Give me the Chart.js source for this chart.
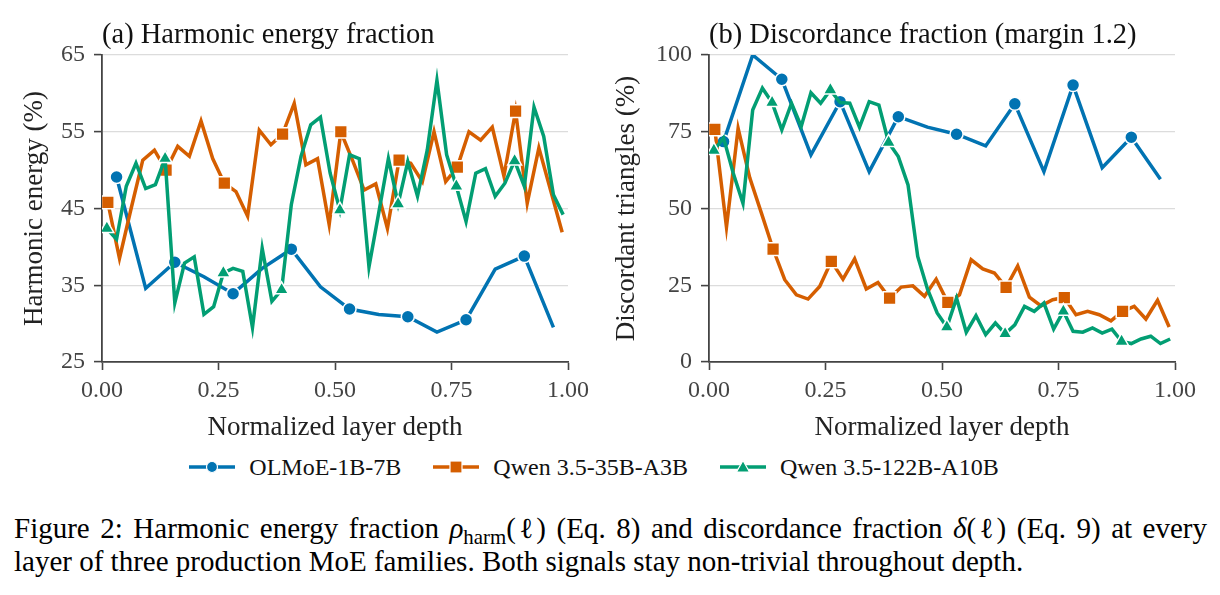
<!DOCTYPE html>
<html>
<head>
<meta charset="utf-8">
<script src="https://cdn.jsdelivr.net/npm/chart.js@4.4.1/dist/chart.umd.min.js"></script>
<style>
  body { margin: 0; width: 1220px; height: 595px; background: #fff; position: relative; overflow: hidden;
         font-family: 'Liberation Serif', 'DejaVu Serif', serif; }
  canvas { position: absolute; top: 0; }
  #harm { left: 0; }
  #disc { left: 600px; }
  #legend { position: absolute; top: 452px; left: 0; width: 1188px; height: 30px; display: flex;
            justify-content: center; align-items: center; font-size: 24px; color: #111; }
  .item { display: flex; align-items: center; margin: 0 16px; }
  .item svg { margin-right: 14px; }
  .caption { position: absolute; left: 14px; font-size: 29px; color: #000; }
  .caption.first { width: 1193px; text-align: justify; text-align-last: justify; text-justify: inter-word; }
  .caption.second { white-space: nowrap; }
  .caption i { font-style: italic; }
  .caption sub { font-size: 0.72em; vertical-align: -0.3em; line-height: 0; }
</style>
</head>
<body>
<canvas id="harm" width="600" height="445"></canvas>
<canvas id="disc" width="620" height="445"></canvas>
<div id="legend"></div>
<div class="caption first" style="top:512px">Figure 2: Harmonic energy fraction <i>ρ</i><sub>harm</sub>(ℓ) (Eq. 8) and discordance fraction <i>δ</i>(ℓ) (Eq. 9) at every</div>
<div class="caption second" style="top:545px">layer of three production MoE families. Both signals stay non-trivial throughout depth.</div>
<script>
const modelNames = ['OLMoE-1B-7B', 'Qwen 3.5-35B-A3B', 'Qwen 3.5-122B-A10B'];
const colors = ['#0173B2', '#D55E00', '#029E73'];
const markers = ['circle', 'rect', 'triangle'];
const markerRadius = [6.5, 9, 8];
const markEvery = [2, 5, 6];

// harmonic energy fraction (%), one value per layer
const olmoeHarm = [49.1, 34.6, 38.0, 36.1, 33.9, 37.2, 39.7, 34.8, 31.9, 31.2, 30.9, 28.9, 30.5, 37.1, 38.8, 29.5];
const qwen35Harm = [45.8, 38.5, 45.0, 51.3, 52.6, 50.0, 53.1, 51.8, 56.4, 51.5,
                    48.3, 47.2, 44.0, 55.2, 53.3, 54.7, 58.7, 50.7, 51.5, 42.9,
                    55.0, 51.3, 47.4, 48.2, 42.4, 51.3, 50.9, 48.5, 55.0, 48.5,
                    50.4, 55.0, 53.9, 55.6, 49.2, 57.7, 45.7, 52.9, 47.4, 41.9];
const qwen122Harm = [42.4, 41.0, 47.9, 50.9, 47.6, 48.1, 51.5, 32.7, 37.9, 38.7, 31.2, 32.2,
                     36.6, 37.2, 36.8, 29.5, 39.8, 32.9, 34.4, 45.5, 51.8, 55.9, 56.9, 49.6,
                     44.8, 52.0, 51.5, 37.4, 44.4, 51.5, 45.6, 51.1, 46.6, 52.6, 61.7, 52.0,
                     47.9, 43.3, 49.6, 50.2, 46.6, 48.3, 51.2, 47.9, 58.2, 54.4, 46.8, 44.2];

// discordance fraction (%), margin 1.2
const olmoeDisc = [71.8, 100, 92.1, 67.5, 84.8, 62.0, 79.9, 76.5, 74.2, 70.4, 84.1, 62.0, 90.2, 63.3, 73.2, 59.5];
const qwen35Disc = [75.8, 43.9, 76.1, 60.0, 48.5, 36.8, 26.8, 21.9, 20.5, 24.6,
                    32.8, 27.0, 33.6, 23.8, 25.9, 20.8, 24.4, 24.8, 21.4, 27.0,
                    19.4, 21.9, 33.3, 30.3, 29.0, 24.3, 31.3, 21.1, 18.3, 20.3,
                    21.0, 15.4, 16.5, 15.4, 13.4, 16.5, 18.1, 14.0, 20.1, 11.4];
const qwen122Disc = [68.9, 73.0, 61.5, 51.7, 82.1, 89.2, 84.5, 75.6, 84.3, 76.7, 87.7, 84.3,
                     88.6, 84.5, 84.3, 76.5, 84.8, 83.7, 71.5, 66.9, 57.7, 34.4, 23.8, 16.0,
                     11.4, 20.8, 9.7, 15.1, 8.9, 12.7, 9.2, 12.1, 18.1, 16.5, 19.2, 10.7,
                     16.5, 10.0, 9.7, 11.1, 9.4, 10.7, 6.7, 6.0, 7.5, 8.4, 6.0, 7.5];

const xTicks = [0, 0.25, 0.5, 0.75, 1];
const FONT = "'Liberation Serif', 'DejaVu Serif', serif";

// layer l of an L-layer model sits at depth (l + 0.5) / L
function toPoints(values) {
  return values.map((v, i) => ({ x: (i + 0.5) / values.length, y: v }));
}

function makeDatasets(series) {
  return series.map((vals, k) => ({
    label: modelNames[k],
    data: toPoints(vals),
    borderColor: colors[k],
    backgroundColor: colors[k],
    borderWidth: 3.5,
    tension: 0,
    pointStyle: markers[k],
    pointRadius: ctx => ctx.dataIndex % markEvery[k] === 0 ? markerRadius[k] : 0,
    pointBackgroundColor: colors[k],
    pointBorderColor: '#fff',
    pointBorderWidth: 1.5,
    order: 2 - k
  }));
}

const panelTitle = {
  id: 'panelTitle',
  afterDraw(chart, args, opts) {
    const { ctx, chartArea } = chart;
    ctx.save();
    ctx.font = '28.5px ' + FONT;
    ctx.fillStyle = '#111';
    ctx.textBaseline = 'alphabetic';
    ctx.fillText(opts.text, chartArea.left, 43);
    ctx.restore();
  }
};

function makePanel(id, series, opt) {
  const canvas = document.getElementById(id);
  new Chart(canvas, {
    type: 'line',
    data: { datasets: makeDatasets(series) },
    plugins: [panelTitle],
    options: {
      responsive: false,
      animation: false,
      events: [],
      layout: { padding: { top: 55, right: opt.padRight, bottom: 0, left: 0 } },
      plugins: {
        legend: { display: false },
        tooltip: { enabled: false },
        panelTitle: { text: opt.title }
      },
      scales: {
        x: {
          type: 'linear',
          min: 0, max: 1,
          afterBuildTicks: s => { s.ticks = xTicks.map(v => ({ value: v })); },
          afterFit: s => { s.height = 445 - 362; },
          ticks: { callback: v => v.toFixed(2), color: '#444', font: { size: 24, family: FONT }, padding: 6, maxRotation: 0 },
          grid: { drawOnChartArea: false, tickLength: 8, tickColor: '#444', tickWidth: 1.6 },
          border: { color: '#444', width: 1.8 },
          title: { display: true, text: 'Normalized layer depth', color: '#222',
                   font: { size: 27, family: FONT }, padding: { top: 0, bottom: 1 } }
        },
        y: {
          min: opt.yMin, max: opt.yMax,
          afterBuildTicks: s => { s.ticks = opt.yTicks.map(v => ({ value: v })); },
          afterFit: s => { s.width = opt.yWidth; },
          ticks: { color: '#444', font: { size: 24, family: FONT }, padding: 9 },
          grid: { color: '#dcdcdc', lineWidth: 1.2, tickLength: 8, tickColor: '#444', tickWidth: 1.6 },
          border: { color: '#444', width: 1.8 },
          title: { display: true, text: opt.yTitle, color: '#222',
                   font: { size: 27, family: FONT }, padding: { top: opt.yTitlePad, bottom: 0 } }
        }
      }
    }
  });
}

makePanel('harm', [olmoeHarm, qwen35Harm, qwen122Harm], {
  title: '(a) Harmonic energy fraction',
  yTitle: 'Harmonic energy (%)',
  yMin: 25, yMax: 65, yTicks: [25, 35, 45, 55, 65],
  yWidth: 102, yTitlePad: 19, padRight: 32
});

makePanel('disc', [olmoeDisc, qwen35Disc, qwen122Disc], {
  title: '(b) Discordance fraction (margin 1.2)',
  yTitle: 'Discordant triangles (%)',
  yMin: 0, yMax: 100, yTicks: [0, 25, 50, 75, 100],
  yWidth: 109, yTitlePad: 11, padRight: 45
});

// legend below both panels
const legend = document.getElementById('legend');
modelNames.forEach((name, k) => {
  let mark;
  if (markers[k] === 'circle') mark = `<circle cx="23" cy="10" r="5.5" fill="${colors[k]}" stroke="#fff" stroke-width="1.2"/>`;
  else if (markers[k] === 'rect') mark = `<rect x="17" y="4" width="12" height="12" fill="${colors[k]}" stroke="#fff" stroke-width="1.2"/>`;
  else mark = `<polygon points="23,3.5 29.5,15 16.5,15" fill="${colors[k]}" stroke="#fff" stroke-width="1.2"/>`;
  const item = document.createElement('div');
  item.className = 'item';
  item.innerHTML = `<svg width="46" height="20"><line x1="0" y1="10" x2="46" y2="10" stroke="${colors[k]}" stroke-width="3.3"/>${mark}</svg><span>${name}</span>`;
  legend.appendChild(item);
});
</script>
</body>
</html>
